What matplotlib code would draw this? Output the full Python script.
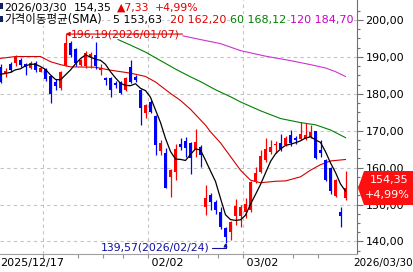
import matplotlib
matplotlib.use("Agg")
import matplotlib.pyplot as plt
import numpy as np
from matplotlib.patches import Polygon, Rectangle
from matplotlib.transforms import blended_transform_factory

plt.rcParams['font.family'] = ['DejaVu Sans', 'Noto Sans CJK KR']

W, H = 413, 272

# ---- daily candles (index 0 = 2025/12/17 ... index 69 = 2026/03/30) ----
opens = [187.3, 185.6, 188.0, 188.3, 189.2, 188.0, 187.1, 188.3, 186.0, 186.6,
         184.8, 183.3, 181.5, 187.8, 193.7, 192.1, 187.8, 187.6, 190.1, 190.5,
         186.5, 184.2, 184.2, 182.8, 183.3, 181.0, 187.3, 184.6, 181.0, 174.7,
         177.9, 174.0, 164.5, 164.0, 157.5, 158.8, 166.4, 167.2, 166.7, 164.8,
         165.6, 149.4, 152.6, 150.7, 148.0, 143.6, 142.5, 146.9, 146.9, 148.0,
         148.5, 156.1, 158.8, 162.1, 164.3, 166.0, 166.7, 166.1, 168.8, 168.0,
         167.8, 167.8, 168.3, 169.8, 164.8, 162.1, 159.9, 152.3, 148.0, 151.8]
highs = [188.0, 187.0, 188.5, 190.6, 189.8, 188.3, 188.8, 188.8, 187.2, 187.0,
         185.2, 184.0, 186.3, 196.19, 194.2, 192.5, 189.5, 191.5, 191.2, 194.1,
         188.0, 184.6, 184.6, 183.5, 183.6, 184.5, 189.2, 185.2, 181.3, 177.3,
         178.2, 174.3, 167.5, 165.3, 159.5, 166.5, 168.1, 168.4, 167.0, 170.5,
         166.0, 155.3, 153.1, 151.2, 149.4, 144.0, 145.6, 151.4, 149.8, 151.7,
         156.5, 160.2, 164.8, 168.0, 167.5, 167.3, 169.1, 168.5, 170.3, 168.5,
         172.4, 172.1, 171.5, 170.0, 167.5, 162.4, 160.2, 157.0, 149.3, 159.1]
lows = [182.8, 184.5, 186.0, 187.5, 187.2, 185.1, 186.8, 186.0, 185.8, 183.5,
        177.4, 181.0, 181.0, 187.5, 190.0, 187.5, 187.5, 187.0, 187.0, 186.8,
        185.1, 182.4, 179.2, 181.6, 179.9, 180.8, 182.8, 183.3, 171.5, 173.4,
        174.9, 163.4, 163.4, 154.5, 152.0, 156.6, 164.8, 163.0, 158.4, 163.0,
        160.2, 147.2, 148.5, 147.5, 143.5, 139.57, 140.4, 144.4, 144.0, 146.3,
        148.0, 155.7, 158.5, 161.6, 163.8, 164.0, 164.5, 165.8, 165.9, 166.5,
        167.5, 167.5, 168.0, 162.3, 163.0, 156.3, 152.9, 152.0, 143.9, 151.3]
closes = [183.3, 186.3, 186.4, 190.1, 187.8, 187.3, 188.4, 186.5, 186.9, 183.9,
          179.9, 182.2, 186.0, 193.7, 190.5, 188.3, 189.2, 191.0, 190.8, 187.4,
          187.0, 183.7, 181.0, 182.4, 180.1, 184.2, 183.3, 183.7, 176.1, 177.0,
          175.2, 166.1, 166.7, 154.5, 159.3, 165.0, 165.6, 165.3, 162.6, 166.9,
          163.4, 151.8, 150.7, 148.5, 143.9, 141.2, 145.3, 149.6, 149.3, 150.1,
          156.1, 158.5, 163.1, 165.0, 165.6, 166.5, 165.0, 168.0, 166.7, 167.5,
          169.1, 168.8, 169.6, 162.6, 164.0, 156.6, 153.6, 156.6, 147.02, 154.35]
prior_closes = [185.2, 185.0, 186.6, 186.4]   # closes before the first visible day (for SMA5)

# ---- moving averages ----
sma20_idx = [0, 3, 8, 10, 12, 14, 19, 22, 26, 29, 31, 34, 36, 38, 41, 42, 44, 46,
             48, 50, 52, 55, 57, 60, 62, 64, 66, 69]
sma20_val = [189.6, 190.1, 190.1, 188.7, 187.9, 187.3, 187.2, 186.4, 185.6, 184.7,
             183.2, 180.1, 178.2, 175.8, 171.5, 169.7, 166.7, 163.0, 159.3, 156.6,
             155.9, 156.3, 156.4, 157.5, 159.3, 160.8, 161.8, 162.2]
sma60_idx = [23.5, 26, 29, 32, 35, 38, 40, 43, 46, 48, 52, 56, 60, 63, 66, 69]
sma60_val = [194.7, 193.2, 191.3, 189.0, 186.7, 184.6, 183.3, 181.1, 179.2, 177.8,
             175.4, 173.3, 172.2, 171.6, 170.2, 168.12]
sma120_idx = [36.5, 40, 44, 48, 53, 58, 62, 65, 67, 69]
sma120_val = [195.7, 194.7, 193.6, 191.7, 190.2, 189.0, 187.9, 187.0, 186.0, 184.7]

# ---- axis text ----
y_ticks = [140, 150, 160, 170, 180, 190, 200]
y_tick_labels = ["140,00", "150,00", "160,00", "170,00", "180,00", "190,00", "200,00"]
month_lines = [8.5, 29.5, 48.5]
week_ticks = [15.5, 20.5, 24.5, 39.5, 43.5, 58.5, 63.5]
x_labels = ["2025/12/17", "02/02", "03/02", "2026/03/30"]

header1 = [("2026/03/30", 4, "black"), ("154,35", 74, "black"),
           ("▲7,33", 117, "#E00000"), ("+4,99%", 155, "#E00000")]
header2 = [("가격이동평균(SMA)", 4, "black"), ("5 153,63", 113, "black"),
           ("20 162,20", 170, "#E00000"), ("60 168,12", 230, "#008000"),
           ("120 184,70", 290, "#CC00CC")]
high_label = "196,19(2026/01/07)"
low_label = "139,57(2026/02/24)"
last_price = "154,35"
last_change = "+4,99%"

RED = "#FF0000"
BLUE = "#0000FF"

fig = plt.figure(figsize=(W / 100, H / 100), dpi=100)
fig.patch.set_facecolor("white")
ax = fig.add_axes([0, 1 - 254 / H, 357 / W, 254 / H])
ax.set_xlim(-0.1, 71.3)
ax.set_ylim(136.59, 205.42)

x = np.arange(len(closes))
o = np.array(opens); c = np.array(closes); hi = np.array(highs); lo = np.array(lows)
up = c >= o
cols = np.where(up, RED, BLUE)

# grid
for yv in y_ticks:
    ax.axhline(yv, color="#C4C4C4", lw=0.8, ls=(0, (3, 3)), zorder=0)
for xv in month_lines:
    ax.axvline(xv, color="#C4C4C4", lw=0.8, ls=(0, (3, 3)), zorder=0)

# candles
ax.vlines(x, lo, hi, colors=cols, lw=0.9, zorder=3)
body_h = np.maximum(np.abs(c - o), 0.3)
ax.bar(x, body_h, bottom=np.minimum(o, c), width=0.62, color=cols, lw=0, zorder=4)

# moving averages
all_c = np.array(prior_closes + closes)
sma5 = np.convolve(all_c, np.ones(5) / 5, mode="valid")
ax.plot(sma20_idx, sma20_val, color="#D00000", lw=0.8, zorder=2)
ax.plot(sma60_idx, sma60_val, color="#008000", lw=0.8, zorder=2)
ax.plot(sma120_idx, sma120_val, color="#CC33CC", lw=0.8, zorder=2)
ax.plot(x, sma5, color="black", lw=0.9, zorder=5)

# high / low annotations
i_hi = int(np.argmax(hi)); i_lo = int(np.argmin(lo))
ax.annotate("", xy=(i_hi, hi[i_hi]), xytext=(117, 0), textcoords="offset pixels",
            arrowprops=dict(arrowstyle="-|>", color="#E00000", lw=0.8,
                            shrinkA=0, shrinkB=0, mutation_scale=6), zorder=6)
ax.annotate(high_label, xy=(i_hi, hi[i_hi]), xytext=(5, 0), textcoords="offset pixels",
            ha="left", va="center", color="#E00000", fontsize=7.8, zorder=6)
ax.annotate(low_label, xy=(i_lo, lo[i_lo]), xytext=(-16, -4.5), textcoords="offset pixels",
            ha="right", va="center", color="#1010A0", fontsize=7.8, zorder=6,
            arrowprops=dict(arrowstyle="-|>", color="#1010A0", lw=0.8, shrinkA=0, shrinkB=0,
                            mutation_scale=5,
                            connectionstyle="angle,angleA=0,angleB=90,rad=0"))

# axes styling
for s in ["top", "left"]:
    ax.spines[s].set_visible(False)
ax.spines["right"].set_color("#707070")
ax.spines["bottom"].set_color("#A0A0A0")
ax.yaxis.tick_right()
ax.set_yticks(y_ticks, y_tick_labels)
ax.set_yticks(np.arange(137.5, 205.0, 2.5), minor=True)
ax.tick_params(axis="y", which="major", length=4, width=0.8, color="#707070",
               labelsize=8, pad=2)
ax.tick_params(axis="y", which="minor", length=2, width=0.8, color="#707070")
ax.set_xticks(month_lines + week_ticks, [""] * (len(month_lines) + len(week_ticks)))
ax.tick_params(axis="x", which="major", length=3, width=0.8, color="#909090")

# x labels
tr = blended_transform_factory(ax.transData, ax.transAxes)
ly = -9 / 254
fig.text(0 / W, 1 - 263 / H, x_labels[0], ha="left", va="center", fontsize=8)
ax.text(month_lines[1], ly, " " + x_labels[1], transform=tr, ha="left", va="center", fontsize=8)
ax.text(month_lines[2], ly, " " + x_labels[2], transform=tr, ha="left", va="center", fontsize=8)
fig.text(353 / W, 1 - 263 / H, x_labels[3], ha="left", va="center", fontsize=7.5)

# header
box = dict(facecolor="white", edgecolor="none", pad=0.3)
for txt, px, col in header1:
    fig.text(px / W, 1 - 8 / H, txt, ha="left", va="center", color=col, fontsize=7.8, bbox=box)
for txt, px, col in header2:
    fs = 8.3 if px == 4 else 8
    fig.text(px / W, 1 - 19.5 / H, txt, ha="left", va="center", color=col, fontsize=fs, bbox=box)
for py in (3, 16):
    fig.patches.append(Rectangle((0, 1 - (py + 6) / H), 2.5 / W, 6 / H,
                                 transform=fig.transFigure, facecolor="#102060", edgecolor="none"))

# last price tag
pts = [(358, 188), (364, 171), (413, 171), (413, 205), (364, 205)]
fig.patches.append(Polygon([(px / W, 1 - py / H) for px, py in pts], closed=True,
                           transform=fig.transFigure, facecolor="#FF1010", edgecolor="none",
                           zorder=10))
fig.text(389 / W, 1 - 180 / H, last_price, ha="center", va="center", color="white",
         fontsize=8, zorder=11)
fig.text(387 / W, 1 - 195 / H, last_change, ha="center", va="center", color="white",
         fontsize=8, zorder=11)

fig.savefig("out.png", dpi=100, facecolor="white")
